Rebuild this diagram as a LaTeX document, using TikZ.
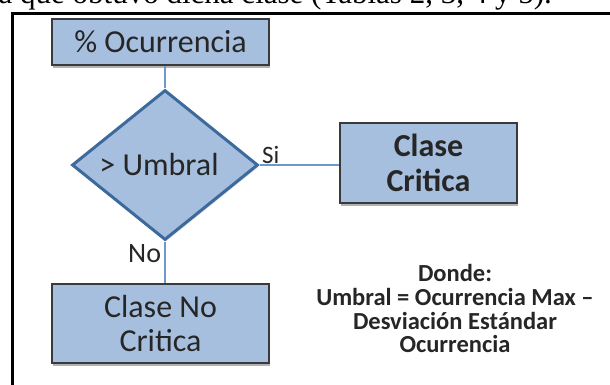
\documentclass[tikz,border=0pt]{standalone}
\usepackage{fontspec}
\setmainfont{Carlito}
\newfontfamily\serifcut{Liberation Serif}
\usetikzlibrary{shapes.geometric,shadows}
\definecolor{boxfill}{HTML}{A7BFDE}
\definecolor{boxline}{HTML}{3A3A3A}
\definecolor{diaLine}{HTML}{3D6A9C}
\definecolor{connLine}{HTML}{6E98CC}
\definecolor{txt}{HTML}{262626}
\begin{document}
\begin{tikzpicture}[x=1pt,y=-1pt,
  flowbox/.style={draw=boxline,line width=1.8pt,fill=boxfill,inner sep=0pt,text=txt,align=center,
    drop shadow={shadow xshift=1pt,shadow yshift=-3pt,fill=black,opacity=0.3}},
  decision/.style={diamond,draw=diaLine,line width=3pt,fill=boxfill,inner sep=0pt},
  conn/.style={draw=connLine,line width=1.6pt},
  lbl/.style={text=txt,inner sep=0pt,anchor=base west},
  note/.style={text=txt,inner sep=0pt,anchor=base,font=\bfseries\fontsize{24.5}{24}\selectfont}]
\useasboundingbox (0,0) rectangle (610,385);
\clip (0,0) rectangle (610,385);
\fill[white] (0,0) rectangle (610,385);
% cut-off line of text above the frame
\node[anchor=base west,inner sep=0pt,font=\serifcut\fontsize{31}{36}\selectfont] (cut) at (-1.5,3.5) {a que obtuvo dicha clase (Tablas 2, 3, 4 y 5).};
% frame
\draw[line width=3pt,black] (615,13.5) -- (12.5,13.5) -- (12.5,390);
% nodes
\node[flowbox,minimum width=217pt,minimum height=46pt,font=\fontsize{32}{38}\selectfont] (occ) at (160.5,42) {\% Ocurrencia};
\node[decision,minimum width=186pt,minimum height=150pt,
  drop shadow={shadow xshift=1pt,shadow yshift=-2pt,fill=black,opacity=0.15}] (dia) at (165,165) {};
\node[text=txt,inner sep=0pt,font=\fontsize{32}{38}\selectfont] (umb) at (159,165) {> Umbral};
\node[flowbox,minimum width=177pt,minimum height=80pt,font=\bfseries\fontsize{32}{35}\selectfont] (cc) at (428.5,163) {Clase\\Critica};
\node[flowbox,minimum width=217pt,minimum height=79pt,font=\fontsize{32}{34}\selectfont] (cnc) at (160.5,323.5) {Clase No\\Critica};
% connectors
\draw[conn] (occ.south -| dia.north) -- (dia.north);
\draw[conn] (dia.east) -- (dia.east -| cc.west);
\draw[conn] (dia.south) -- (dia.south |- cnc.north);
% labels
\node[lbl,font=\fontsize{25}{30}\selectfont] (si) at (262,163) {Si};
\node[lbl,font=\fontsize{28}{33}\selectfont] (no) at (128,262) {No};
\node[note] (d1) at (455,281) {Donde:};
\node[note] (d2) at (455,305) {Umbral = Ocurrencia Max –};
\node[note] (d3) at (455,329) {Desviación Estándar};
\node[note] (d4) at (455,352) {Ocurrencia};
\end{tikzpicture}
\end{document}
